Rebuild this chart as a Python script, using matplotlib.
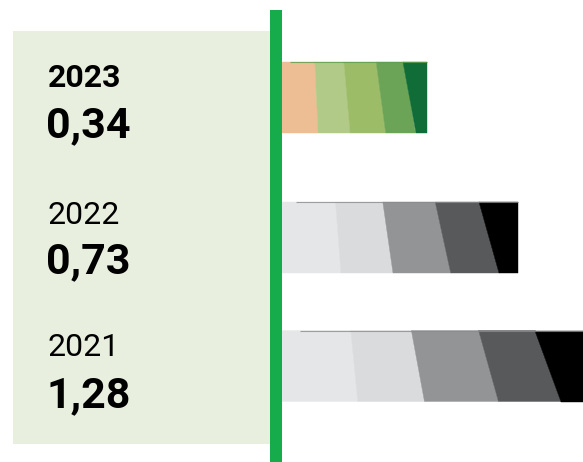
import numpy as np
import matplotlib
matplotlib.use("Agg")
import matplotlib.pyplot as plt
from matplotlib.patches import Polygon, Rectangle

# ---- data ----
years = ["2023", "2022", "2021"]
values = [0.34, 0.73, 1.28]
value_labels = ["0,34", "0,73", "1,28"]
# share of each bar taken by each coloured band (left to right)
segment_shares = [0.24, 0.21, 0.233, 0.196, 0.121]
palette_current = ["#EDBE93", "#B2CA88", "#9DBC68", "#6BA456", "#106D37"]
palette_past = ["#E5E6E7", "#DADBDC", "#939496", "#58595B", "#000000"]
bold_year = [True, False, False]

# ---- layout (pixels) ----
W, H = 583, 462
BASE = 0.1               # left end of the log axis
X_MAX = 1.263
row_centres = [97.5, 237.5, 366.0]
bar_height = 71
slant = 0.048

plt.rcParams["font.family"] = ["Roboto", "DejaVu Sans"]

fig = plt.figure(figsize=(W / 100, H / 100), dpi=100)
fig.patch.set_facecolor("white")

# background panel and divider
bg = fig.add_axes([0, 0, 1, 1])
bg.set_xlim(0, W)
bg.set_ylim(H, 0)
bg.axis("off")
bg.add_patch(Rectangle((13, 31), 257, 412.5, facecolor="#E8EFDF", edgecolor="none"))
bg.add_patch(Rectangle((270.3, 10), 11.2, H - 10, facecolor="#17AC4B", edgecolor="none"))

# bars on a log axis starting at BASE
x0 = 281.6
ax = fig.add_axes([x0 / W, 0, (W - x0) / W, 1])
ax.set_xscale("log")
ax.set_xlim(BASE, X_MAX)
ax.set_ylim(H, 0)
ax.axis("off")

cum = np.concatenate([[0.0], np.cumsum(segment_shares)])
cum[-1] = 1.0
for i, v in enumerate(values):
    yc = row_centres[i]
    top, bot = yc - bar_height / 2, yc + bar_height / 2
    colors = palette_current if i == 0 else palette_past

    def at(frac):
        return BASE * (v / BASE) ** frac

    for k, col in enumerate(colors):
        fl, fr = cum[k], cum[k + 1]
        lt, lb = fl * (1 - slant), fl * (1 + slant)
        if k == len(colors) - 1:
            rt = rb = 1.0
        else:
            rt, rb = fr * (1 - slant), fr * (1 + slant)
        poly = Polygon([(at(lt), top), (at(rt), top), (at(rb), bot), (at(lb), bot)],
                       closed=True, facecolor=col, edgecolor=col, linewidth=0.3)
        ax.add_patch(poly)

    # thin rule along the top edge of the bar
    edge_col = "#5E9E4E" if i == 0 else "#8A8B8D"
    ax.plot([at(0.06), v], [top + 0.4, top + 0.4], color=edge_col,
            linewidth=0.8, alpha=0.8, solid_capstyle="butt")

# labels
year_baselines = [87, 224, 356]
value_baselines = [137, 273.5, 407]
for i in range(len(years)):
    bg.text(47.5, year_baselines[i], years[i], fontsize=23,
            fontweight="bold" if bold_year[i] else "normal",
            ha="left", va="baseline", color="#000000")
    bg.text(46.5, value_baselines[i], value_labels[i], fontsize=31,
            fontweight="bold", ha="left", va="baseline", color="#000000")

fig.savefig("out.png", dpi=100)
